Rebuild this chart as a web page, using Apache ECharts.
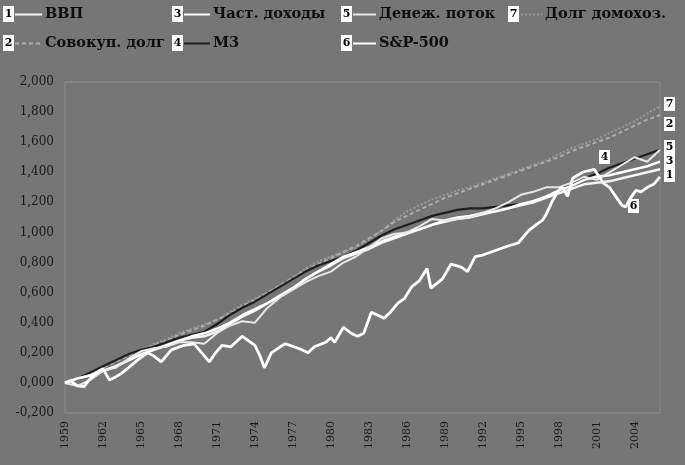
<!DOCTYPE html>
<html><head><meta charset="utf-8">
<script src="https://cdn.jsdelivr.net/npm/echarts@6/dist/echarts.min.js"></script>
<style>html,body{margin:0;padding:0;background:#767676;}#c{width:685px;height:465px;}</style>
</head><body><div id="c"></div>
<script>
const years = [1959,1960,1961,1962,1963,1964,1965,1966,1967,1968,1969,1970,1971,1972,1973,1974,1975,1976,1977,1978,1979,1980,1981,1982,1983,1984,1985,1986,1987,1988,1989,1990,1991,1992,1993,1994,1995,1996,1997,1998,1999,2000,2001,2002,2003,2004,2005,2006];
const xTicks = [1959,1962,1965,1968,1971,1974,1977,1980,1983,1986,1989,1992,1995,1998,2001,2004];
const gdp = [0,0.03,0.05,0.08,0.11,0.15,0.19,0.22,0.25,0.28,0.30,0.31,0.34,0.39,0.44,0.48,0.53,0.58,0.63,0.69,0.74,0.78,0.83,0.86,0.89,0.93,0.96,0.99,1.02,1.05,1.07,1.09,1.10,1.12,1.14,1.16,1.18,1.20,1.23,1.26,1.29,1.32,1.33,1.34,1.36,1.38,1.40,1.42];
const totalDebt = [0,0.03,0.06,0.10,0.14,0.18,0.21,0.25,0.28,0.32,0.35,0.38,0.42,0.46,0.51,0.55,0.60,0.65,0.70,0.75,0.79,0.83,0.87,0.91,0.96,1.01,1.07,1.11,1.15,1.19,1.23,1.26,1.29,1.32,1.35,1.38,1.41,1.44,1.47,1.50,1.54,1.57,1.60,1.63,1.67,1.71,1.75,1.78];
const income = [0,0.03,0.05,0.08,0.11,0.15,0.19,0.22,0.25,0.28,0.31,0.33,0.36,0.40,0.45,0.49,0.53,0.58,0.63,0.69,0.74,0.79,0.84,0.87,0.90,0.94,0.97,1.00,1.02,1.05,1.08,1.10,1.11,1.13,1.14,1.16,1.19,1.21,1.24,1.28,1.31,1.35,1.37,1.38,1.40,1.42,1.44,1.47];
const m3 = [0,0.03,0.07,0.11,0.15,0.19,0.22,0.24,0.27,0.30,0.32,0.34,0.39,0.45,0.50,0.54,0.59,0.64,0.69,0.74,0.78,0.81,0.84,0.88,0.93,0.98,1.02,1.05,1.08,1.11,1.13,1.15,1.16,1.16,1.17,1.18,1.19,1.21,1.24,1.28,1.32,1.36,1.39,1.43,1.46,1.49,1.52,1.55];
const cashFlow = [0,-0.02,0.02,0.08,0.10,0.16,0.21,0.23,0.24,0.27,0.27,0.26,0.33,0.38,0.41,0.40,0.50,0.57,0.62,0.67,0.71,0.74,0.80,0.84,0.90,0.96,0.99,1.00,1.04,1.09,1.08,1.09,1.10,1.13,1.16,1.20,1.25,1.27,1.30,1.30,1.33,1.37,1.35,1.40,1.45,1.50,1.47,1.55];
const hhDebt = [0,0.03,0.07,0.11,0.15,0.19,0.22,0.26,0.29,0.33,0.36,0.39,0.42,0.47,0.52,0.56,0.60,0.65,0.70,0.76,0.81,0.84,0.87,0.90,0.95,1.01,1.08,1.14,1.18,1.22,1.25,1.28,1.30,1.33,1.36,1.39,1.42,1.45,1.48,1.52,1.56,1.59,1.62,1.66,1.70,1.74,1.79,1.84];
const spTimes = [1959.0,1959.4,1960.0,1960.5,1961.0,1961.5,1962.0,1962.5,1963.0,1963.4,1964.0,1964.7,1965.5,1966.0,1966.6,1967.4,1968.4,1969.2,1969.8,1970.4,1970.9,1971.4,1972.1,1973.0,1973.5,1974.0,1974.4,1974.75,1975.3,1976.0,1976.4,1977.1,1977.7,1978.2,1978.7,1979.0,1979.6,1980.0,1980.3,1981.0,1981.6,1982.1,1982.6,1983.2,1983.7,1984.2,1984.7,1985.3,1985.8,1986.4,1987.0,1987.6,1987.9,1988.5,1988.8,1989.5,1990.3,1990.8,1991.4,1992.0,1993.0,1994.0,1994.8,1995.6,1996.2,1996.7,1997.0,1997.5,1998.0,1998.3,1998.7,1999.1,1999.9,2000.3,2000.8,2001.2,2001.5,2002.0,2002.5,2003.0,2003.3,2003.6,2004.1,2004.5,2005.0,2005.5,2006.0];
const sp500 = [0,0.015,-0.02,-0.025,0.03,0.07,0.095,0.02,0.04,0.06,0.10,0.15,0.20,0.18,0.14,0.22,0.25,0.26,0.20,0.14,0.20,0.25,0.24,0.31,0.28,0.25,0.18,0.10,0.20,0.24,0.26,0.24,0.22,0.20,0.24,0.25,0.27,0.30,0.27,0.37,0.33,0.31,0.33,0.47,0.45,0.43,0.47,0.53,0.56,0.64,0.68,0.76,0.63,0.67,0.69,0.79,0.77,0.74,0.84,0.85,0.88,0.91,0.93,1.01,1.05,1.08,1.12,1.21,1.28,1.30,1.24,1.36,1.40,1.41,1.42,1.37,1.33,1.30,1.24,1.18,1.17,1.22,1.28,1.27,1.30,1.32,1.37];
const names = ['ВВП','Совокуп. долг','Част. доходы','M3','Денеж. поток','S&P-500','Долг домохоз.'];

const zip = (xs, vs) => xs.map((x, i) => [x, vs[i]]);
const serif = '"DejaVu Serif","Liberation Serif",serif';

function line(name, xs, vs, color, width, type, z) {
  return { name, type: 'line', data: zip(xs, vs), showSymbol: false, symbol: 'none', z,
    lineStyle: { color, width, type }, itemStyle: { color }, emphasis: { disabled: true } };
}
const series = [
  line(names[6], years, hhDebt, '#9a9a9a', 2, [2, 2], 2),
  line(names[1], years, totalDebt, '#acacac', 2, [4, 3], 2),
  line(names[3], years, m3, '#1e1e1e', 2.2, 'solid', 3),
  line(names[0], years, gdp, '#f4f4f4', 2.4, 'solid', 4),
  line(names[2], years, income, '#ffffff', 2.4, 'solid', 4),
  line(names[4], years, cashFlow, '#e8e8e8', 2, 'solid', 4),
  line(names[5], spTimes, sp500, '#ffffff', 2.8, 'solid', 5)
];

const legendPos = [
  [names[0], 14, 7, 27], [names[2], 183, 7, 26], [names[4], 352, 7, 23], [names[6], 520, 7, 21],
  [names[1], 14, 36, 27], [names[3], 183, 36, 26], [names[5], 352, 36, 23]
];
const legends = legendPos.map(p => ({
  data: [p[0]], left: p[1], top: p[2], padding: 0, itemWidth: p[3], itemHeight: 12, itemGap: 0,
  selectedMode: false, itemStyle: { opacity: 0 },
  textStyle: { fontFamily: serif, fontWeight: 'bold', fontSize: 14.5, color: '#0e0e0e', padding: [0, 0, 0, -2] }
}));

function box(num, x, y, w, h) {
  return { type: 'group', left: x, top: y, z: 100, children: [
    { type: 'rect', shape: { x: 0, y: 0, width: w, height: h }, style: { fill: '#ffffff' } },
    { type: 'text', style: { text: num, x: w / 2, y: h / 2 + 0.5, align: 'center', verticalAlign: 'middle',
      font: 'bold 11px ' + serif, fill: '#000' } }
  ] };
}
const graphics = [
  box('1', 3, 6, 11, 16), box('3', 172, 6, 11, 16), box('5', 341, 6, 11, 16), box('7', 508, 6, 11, 16),
  box('2', 3, 35, 11, 16), box('4', 172, 35, 11, 16), box('6', 341, 35, 11, 16),
  box('7', 664, 97, 11, 14), box('2', 664, 117, 11, 14), box('5', 664, 140, 11, 14),
  box('3', 664, 154, 11, 14), box('1', 664, 168, 11, 14), box('4', 599, 150, 11, 14), box('6', 628, 199, 11, 14)
];

const chart = echarts.init(document.getElementById('c'));
chart.setOption({
  backgroundColor: '#767676',
  animation: false,
  legend: legends,
  graphic: graphics,
  grid: { left: 65, right: 25, top: 82, bottom: 52, show: true, borderColor: '#8e8e8e', borderWidth: 1, backgroundColor: 'transparent' },
  xAxis: {
    type: 'value', min: 1959, max: 2006, interval: 3,
    axisLine: { show: false }, axisTick: { show: false }, splitLine: { show: false },
    axisLabel: { rotate: 90, margin: 8, fontFamily: serif, fontSize: 11, color: '#1a1a1a', showMaxLabel: false,
      formatter: v => xTicks.includes(v) ? String(v) : '' }
  },
  yAxis: {
    type: 'value', min: -0.2, max: 2.0, interval: 0.2,
    axisLine: { show: false }, axisTick: { show: false }, splitLine: { show: false },
    axisLabel: { margin: 11, fontFamily: serif, fontSize: 12, color: '#1a1a1a',
      formatter: v => v.toFixed(3).replace('.', ',') }
  },
  series
});
</script></body></html>
